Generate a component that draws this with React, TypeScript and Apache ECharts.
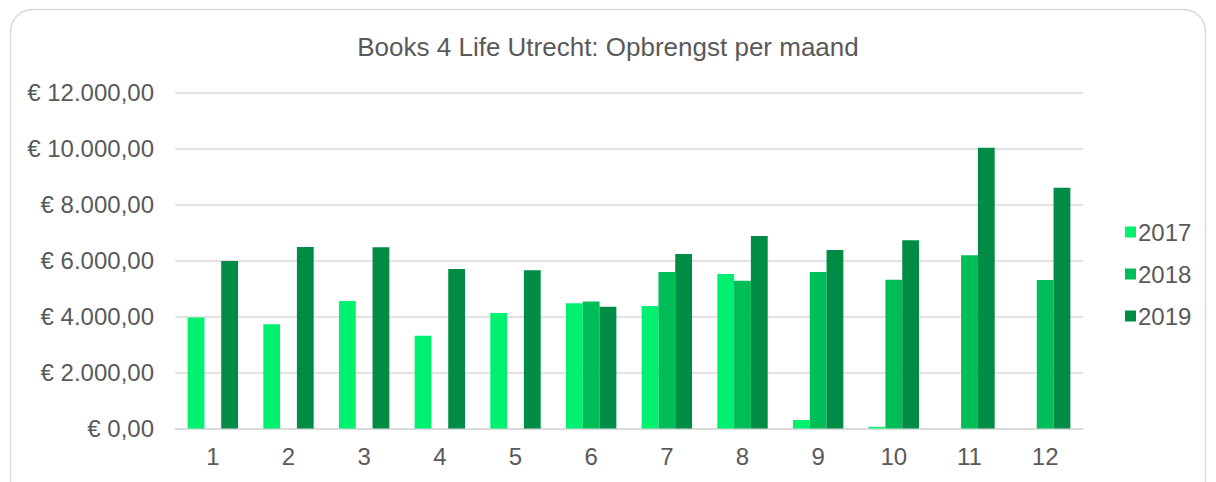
import React, { useEffect, useRef } from "react";
import * as echarts from "echarts";

const months = ["1", "2", "3", "4", "5", "6", "7", "8", "9", "10", "11", "12"];
const seriesNames = ["2017", "2018", "2019"];
const values2017 = [3960, 3720, 4550, 3315, 4125, 4470, 4375, 5520, 305, 60, 0, 0];
const values2018 = [null, null, null, null, null, 4540, 5590, 5280, 5590, 5315, 6185, 5305];
const values2019 = [5980, 6480, 6470, 5700, 5650, 4350, 6230, 6875, 6375, 6720, 10030, 8600];
const colors = ["#00F170", "#00BD58", "#008C45"];
const titleText = "Books 4 Life Utrecht: Opbrengst per maand";

function euro(v: number): string {
  const s = Math.round(v).toString().replace(/\B(?=(\d{3})+(?!\d))/g, ".");
  return "€ " + s + ",00";
}

export default function App() {
  const ref = useRef<HTMLDivElement>(null);
  useEffect(() => {
    if (!ref.current) return;
    const chart = echarts.init(ref.current, undefined, { renderer: "svg" });
    const font = "'Liberation Sans', Arial, sans-serif";
    const data = [values2017, values2018, values2019];
    chart.setOption({
      animation: false,
      backgroundColor: "#ffffff",
      textStyle: { fontFamily: font, color: "#595959" },
      graphic: [
        {
          type: "rect",
          shape: { x: 10.5, y: 9.5, width: 1195, height: 520, r: 22 },
          style: { fill: "none", stroke: "#d9d9d9", lineWidth: 1.5 },
          silent: true,
        },
      ],
      title: {
        text: titleText,
        left: "center",
        top: 29,
        textStyle: { fontFamily: font, fontSize: 26, fontWeight: "normal", color: "#595959" },
      },
      legend: {
        orient: "vertical",
        left: 1120,
        top: 215,
        itemWidth: 11,
        itemHeight: 11,
        itemGap: 18,
        icon: "rect",
        data: seriesNames,
        textStyle: { fontFamily: font, fontSize: 24, color: "#595959", lineHeight: 22, padding: [0, 0, 0, -3] },
      },
      grid: { left: 175, right: 133, top: 92.5, bottom: 53.5, containLabel: false },
      xAxis: {
        type: "category",
        data: months,
        axisLine: { show: true, lineStyle: { color: "#d9d9d9", width: 1.5 } },
        axisTick: { show: false },
        axisLabel: { fontFamily: font, fontSize: 24, color: "#595959", margin: 16 },
      },
      yAxis: {
        type: "value",
        min: 0,
        max: 12000,
        interval: 2000,
        axisLine: { show: false },
        axisTick: { show: false },
        splitLine: { lineStyle: { color: "#d9d9d9", width: 1.5 } },
        axisLabel: { fontFamily: font, fontSize: 24, color: "#595959", margin: 21, formatter: euro },
      },
      series: seriesNames.map((name, i) => ({
        name,
        type: "bar",
        data: data[i],
        barGap: "0%",
        barCategoryGap: "33.4%",
        itemStyle: { color: colors[i] },
      })),
    });
    return () => chart.dispose();
  }, []);
  return (
    <div
      ref={ref}
      style={{ position: "fixed", left: 0, top: 0, width: 1216, height: 482 }}
    />
  );
}
